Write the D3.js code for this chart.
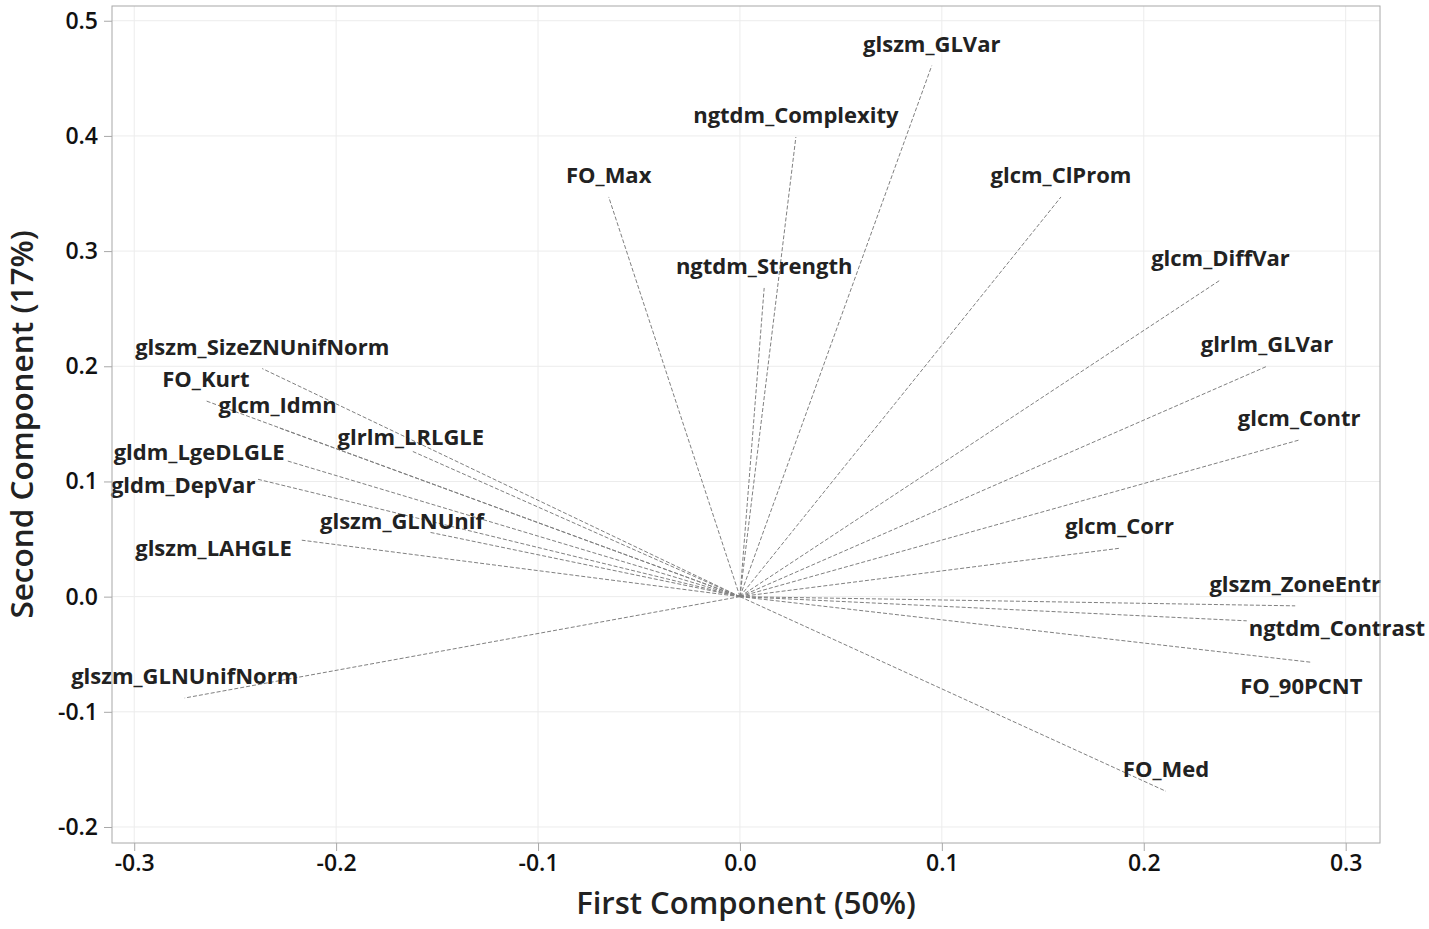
<!DOCTYPE html>
<html lang="en">
<head>
<meta charset="utf-8">
<title>PCA loading plot</title>
<script src="https://d3js.org/d3.v7.min.js"></script>
<style>
  body { margin: 0; background: #fff; }
  svg { display: block; }
</style>
</head>
<body>
<script>
// ---------- data ----------
var features = ["glszm_GLVar", "ngtdm_Complexity", "FO_Max", "glcm_ClProm", "ngtdm_Strength",
                "glcm_DiffVar", "glrlm_GLVar", "glcm_Contr", "glcm_Corr", "glszm_ZoneEntr",
                "ngtdm_Contrast", "FO_90PCNT", "FO_Med", "glszm_GLNUnifNorm", "glszm_LAHGLE",
                "glszm_GLNUnif", "gldm_DepVar", "gldm_LgeDLGLE", "glrlm_LRLGLE", "glcm_Idmn",
                "FO_Kurt", "glszm_SizeZNUnifNorm"];
var firstComp  = [0.095, 0.0277, -0.065, 0.159, 0.012, 0.238, 0.261, 0.277, 0.188, 0.275,
                  0.251, 0.283, 0.211, -0.275, -0.217, -0.154, -0.239, -0.2245, -0.162, -0.229,
                  -0.2645, -0.2366];
var secondComp = [0.461, 0.399, 0.347, 0.347, 0.268, 0.275, 0.200, 0.136, 0.042, -0.008,
                  -0.021, -0.057, -0.169, -0.088, 0.049, 0.056, 0.102, 0.118, 0.126, 0.147,
                  0.170, 0.198];
var xTicks = [-0.3, -0.2, -0.1, 0.0, 0.1, 0.2, 0.3];
var yTicks = [-0.2, -0.1, 0.0, 0.1, 0.2, 0.3, 0.4, 0.5];

// ---------- setup ----------
var w = 1429, h = 929;
var margin = {top: 6, right: 49, bottom: 86, left: 112};

var xScale = d3.scaleLinear().domain([-0.311, 0.317]).range([margin.left, w - margin.right]);
var yScale = d3.scaleLinear().domain([-0.2139, 0.5128]).range([h - margin.bottom, margin.top]);

// plain hyphen for negatives, like the original
var fmt = function(d) { return d.toFixed(1); };

// label placement: [text-anchor, dx, dy] in px from the line end (default centred above)
var place = {
  "glrlm_LRLGLE":  ["middle", -2, -7],
  "gldm_LgeDLGLE": ["end", -2, -1],
  "gldm_DepVar":   ["end", -2, 14],
  "glszm_GLNUnif": ["middle", -27, -3],
  "glszm_LAHGLE":  ["end", -10, 16],
  "ngtdm_Contrast":["start", 2, 15],
  "FO_90PCNT":     ["middle", -10, 32]
};

var rows = features.map(function(f, i) {
  return {name: f, x: firstComp[i], y: secondComp[i]};
});

var svg = d3.select("body").append("svg")
  .attr("width", w)
  .attr("height", h)
  .style("font-family", "'Open Sans', 'Noto Sans', sans-serif");

// gridlines
svg.append("g").selectAll("line")
  .data(xTicks).enter().append("line")
  .attr("x1", d => xScale(d)).attr("x2", d => xScale(d))
  .attr("y1", margin.top).attr("y2", h - margin.bottom)
  .attr("stroke", "#ececec").attr("stroke-width", 1);
svg.append("g").selectAll("line")
  .data(yTicks).enter().append("line")
  .attr("x1", margin.left).attr("x2", w - margin.right)
  .attr("y1", d => yScale(d)).attr("y2", d => yScale(d))
  .attr("stroke", "#ececec").attr("stroke-width", 1);

// loading vectors
svg.append("g").selectAll("line")
  .data(rows).enter().append("line")
  .attr("x1", xScale(0)).attr("y1", yScale(0))
  .attr("x2", d => xScale(d.x)).attr("y2", d => yScale(d.y))
  .attr("stroke", "#808080")
  .attr("stroke-width", 1)
  .attr("stroke-dasharray", "4,2");

// labels
svg.append("g").selectAll("text")
  .data(rows).enter().append("text")
  .attr("x", function(d) { var p = place[d.name] || ["middle", 0, -14]; return xScale(d.x) + p[1]; })
  .attr("y", function(d) { var p = place[d.name] || ["middle", 0, -14]; return yScale(d.y) + p[2]; })
  .attr("text-anchor", function(d) { return (place[d.name] || ["middle"])[0]; })
  .attr("font-size", 22)
  .attr("font-weight", 700)
  .attr("fill", "#222")
  .text(d => d.name);

// frame
svg.append("rect")
  .attr("x", margin.left).attr("y", margin.top)
  .attr("width", w - margin.left - margin.right)
  .attr("height", h - margin.top - margin.bottom)
  .attr("fill", "none")
  .attr("stroke", "#a8a8a8");

// axes
var xAxis = d3.axisBottom(xScale).tickValues(xTicks).tickFormat(fmt).tickSize(8).tickPadding(2);
var yAxis = d3.axisLeft(yScale).tickValues(yTicks).tickFormat(fmt).tickSize(8).tickPadding(6);

var gx = svg.append("g")
  .attr("transform", "translate(0," + (h - margin.bottom) + ")")
  .call(xAxis);
var gy = svg.append("g")
  .attr("transform", "translate(" + margin.left + ",0)")
  .call(yAxis);

[gx, gy].forEach(function(g) {
  g.select(".domain").remove();
  g.selectAll(".tick line").attr("stroke", "#a8a8a8");
  g.selectAll(".tick text")
    .attr("font-family", "'Open Sans', sans-serif")
    .attr("font-size", 23)
    .attr("font-weight", 600)
    .attr("fill", "#111");
});
gx.selectAll(".tick text").attr("dy", "0.8em");

// axis titles
svg.append("text")
  .attr("x", (margin.left + w - margin.right) / 2)
  .attr("y", 914)
  .attr("text-anchor", "middle")
  .attr("font-size", 31)
  .attr("font-weight", 600)
  .attr("fill", "#222")
  .text("First Component (50%)");

svg.append("text")
  .attr("transform", "translate(33," + ((margin.top + h - margin.bottom) / 2) + ") rotate(-90)")
  .attr("text-anchor", "middle")
  .attr("font-size", 31.5)
  .attr("font-weight", 600)
  .attr("fill", "#222")
  .text("Second Component (17%)");
</script>
</body>
</html>
